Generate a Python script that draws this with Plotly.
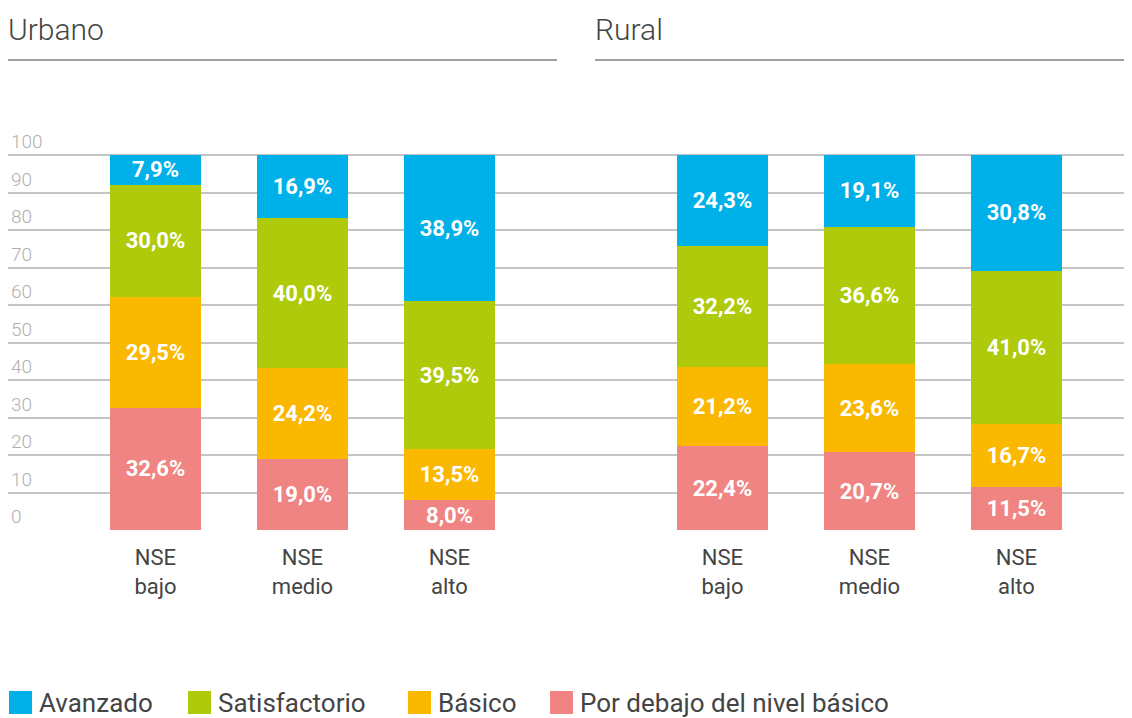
import plotly.graph_objects as go
from plotly.subplots import make_subplots

# categories
niveles = ["NSE<br>bajo", "NSE<br>medio", "NSE<br>alto"]
zonas = ["Urbano", "Rural"]

# series (stack order bottom -> top)
series = ["Por debajo del nivel básico", "Básico", "Satisfactorio", "Avanzado"]
colores = ["#f08482", "#fbb800", "#aeca0b", "#00b0e8"]

urbano_debajo = [32.6, 19.0, 8.0]
urbano_basico = [29.5, 24.2, 13.5]
urbano_satisf = [30.0, 40.0, 39.5]
urbano_avanz = [7.9, 16.9, 38.9]

rural_debajo = [22.4, 20.7, 11.5]
rural_basico = [21.2, 23.6, 16.7]
rural_satisf = [32.2, 36.6, 41.0]
rural_avanz = [24.3, 19.1, 30.8]

datos = {
    "Urbano": [urbano_debajo, urbano_basico, urbano_satisf, urbano_avanz],
    "Rural": [rural_debajo, rural_basico, rural_satisf, rural_avanz],
}

# the page body has an 8px margin, so the figure is drawn 8px smaller
OFF = 8
W, H = 1132 - OFF, 718 - OFF
YMAX = 112
ML, MB = 0, H - (530 - OFF)
plot_h = 375 * YMAX / 100.0
MT = H - MB - plot_h
plot_w = W - ML
split = (589 - OFF) / plot_w

FONT = "Roboto, Arial, sans-serif"


def py(p):
    # window pixel row -> paper y
    return (530 - p) / plot_h


def px(p):
    # window pixel column -> paper x
    return (p - OFF) / plot_w


fig = make_subplots(rows=1, cols=2, shared_yaxes=False, horizontal_spacing=0)

for col, zona in enumerate(zonas, start=1):
    for name, color, vals in zip(series, colores, datos[zona]):
        fig.add_trace(go.Bar(x=niveles, y=vals, name=name, marker=dict(color=color, line=dict(width=0)),
                             texttemplate="%{y:.1f}%", textposition="inside", insidetextanchor="middle",
                             textangle=0, constraintext="none",
                             textfont=dict(family=FONT, size=22, color="white", weight="bold"),
                             showlegend=False, hoverinfo="name+y"), row=1, col=col)

yax = dict(range=[0, YMAX], tickvals=list(range(0, 101, 10)), showgrid=True, gridcolor="#c4c4c4",
           gridwidth=1.5, zeroline=False, showline=False, ticks="")
fig.update_layout(
    width=W, height=H, barmode="stack", bargap=0.38, separators=",.",
    plot_bgcolor="white", paper_bgcolor="white",
    margin=dict(l=ML, r=0, t=MT, b=MB, pad=0),
    uniformtext=dict(minsize=22, mode="show"),
    xaxis=dict(domain=[0, split], range=[-1.003, 2.949]),
    xaxis2=dict(domain=[split, 1], range=[-0.908, 2.786]),
    yaxis=dict(yax, ticklabelposition="inside top",
               tickfont=dict(family=FONT, size=19, color="#b0b0b0", weight=300)),
    yaxis2=dict(yax, showticklabels=False),
)
fig.update_xaxes(showgrid=False, zeroline=False, showline=False, ticks="", ticklabelstandoff=12,
                 tickfont=dict(family=FONT, size=22, color="#444444"))

# panel titles with underline
title_x = [8, 595]
line_end = [557, 1132]
for zona, x0, x1 in zip(zonas, title_x, line_end):
    fig.add_annotation(text=zona, xref="paper", yref="paper", x=px(x0 - 2), y=py(29),
                       xanchor="left", yanchor="middle", showarrow=False,
                       font=dict(family=FONT, size=30, color="#444444", weight=300))
    fig.add_shape(type="line", xref="paper", yref="paper", x0=px(x0), x1=px(x1), y0=py(60), y1=py(60),
                  line=dict(color="#808080", width=1.5))

# legend (top of stack first)
legend_x = [9, 188, 408, 550]
for name, color, x0 in zip(series[::-1], colores[::-1], legend_x):
    fig.add_shape(type="rect", xref="paper", yref="paper", x0=px(x0), x1=px(x0 + 23),
                  y0=py(714), y1=py(691), fillcolor=color, line=dict(width=0))
    fig.add_annotation(text=name, xref="paper", yref="paper", x=px(x0 + 28), y=py(703),
                       xanchor="left", yanchor="middle", showarrow=False,
                       font=dict(family=FONT, size=26, color="#444444"))

fig.write_html("out.html")
